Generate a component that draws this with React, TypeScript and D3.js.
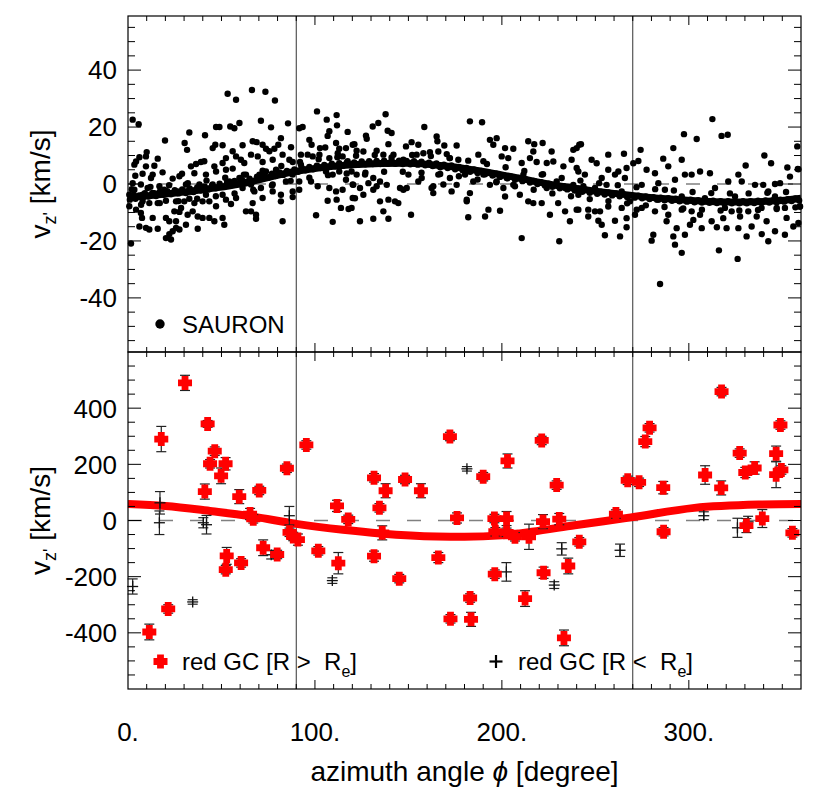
import React from "react";
import * as d3 from "d3";

// ---------- data ----------
const xMajorTicks = [0, 100, 200, 300];
const xTickLabels = ["0.", "100.", "200.", "300."];
const topYTicks = [-40, -20, 0, 20, 40];
const botYTicks = [-400, -200, 0, 200, 400];
const dividers = [90, 270];

// SAURON kinematics: [phi (deg), v_z' (km/s)]
const sauron: [number, number][] = [
  [53.3,31.7],[57.8,29.6],[66.3,33.0],[73.5,32.4],[78.6,29.3],[2.5,22.6],[5.7,21.0],[101.1,25.5],[106.3,22.6],[111.6,24.2],[111.8,20.6],[107.7,18.5],[106.8,16.9],[117.5,18.3],[85.6,21.3],[76.5,19.9],[71.1,22.2],[59.6,21.4],[56.9,19.6],[54.7,20.2],[48.9,20.0],[47.1,20.0],[32.8,18.1],[41.2,17.1],[19.8,15.3],[30.3,14.4],[31.6,12.0],[46.7,13.8],[50.6,13.6],[45.3,12.6],[61.3,13.6],[66.7,15.0],[68.8,14.7],[72.0,13.8],[73.8,12.4],[78.3,12.4],[81.8,16.1],[80.4,13.8],[87.2,12.9],[91.6,19.6],[93.4,20.0],[97.0,15.5],[98.2,13.8],[102.7,12.6],[105.5,12.8],[111.3,14.4],[113.0,12.4],[121.1,14.0],[116.6,12.6],[10.0,11.2],[9.6,9.7],[6.1,9.4],[4.3,7.9],[3.4,6.8],[15.9,8.9],[14.1,6.4],[9.6,6.2],[18.5,4.1],[13.2,3.3],[12.3,2.1],[7.8,3.6],[3.9,2.9],[2.5,0.3],[6.9,-0.2],[23.9,1.9],[27.5,2.7],[28.9,3.6],[33.7,6.2],[36.4,7.0],[39.0,7.7],[40.8,8.0],[46.2,6.2],[35.5,3.8],[41.7,3.3],[47.1,4.4],[52.4,5.0],[56.0,5.4],[56.0,11.5],[57.8,9.7],[60.4,8.5],[62.2,7.4],[65.8,10.3],[69.4,9.7],[72.0,7.7],[77.4,8.5],[82.7,10.3],[86.3,8.5],[88.1,7.7],[75.6,11.5],[52.4,9.1],[50.6,7.4],[92.5,10.3],[96.1,10.3],[98.8,9.7],[102.4,10.3],[107.7,9.1],[112.2,10.8],[114.8,9.7],[117.5,8.0],[120.2,7.0],[92.5,6.8],[95.2,5.0],[101.5,6.2],[105.9,4.4],[109.5,3.3],[113.0,4.4],[116.6,1.5],[120.2,-0.2],[88.1,3.3],[91.6,0.9],[97.9,0.9],[101.5,-0.8],[107.7,-1.4],[111.3,-2.6],[114.8,-2.0],[88.1,-2.6],[91.6,-2.0],[81.8,-3.8],[77.4,-2.6],[72.0,-4.9],[66.7,-6.7],[63.1,-9.6],[65.8,-9.6],[68.5,-10.8],[68.5,-12.2],[82.7,-13.1],[81.8,-6.1],[88.1,-4.6],[106.8,-5.9],[111.6,-5.5],[113.9,-8.4],[118.0,-8.8],[120.2,-4.9],[100.6,-11.0],[109.5,-13.3],[0.7,-7.8],[4.3,-9.0],[6.9,-10.2],[7.5,-11.9],[6.1,-14.9],[9.6,-15.4],[11.4,-16.0],[13.2,-11.9],[15.9,-15.7],[20.3,-11.9],[22.1,-13.1],[25.7,-13.1],[27.5,-9.8],[28.4,-8.4],[24.8,-9.6],[31.9,-10.8],[34.6,-9.6],[37.3,-11.4],[37.3,-15.7],[31.0,-14.3],[27.5,-16.0],[23.9,-16.6],[20.3,-19.0],[22.1,-17.6],[23.0,-19.5],[25.7,-15.4],[39.9,-11.9],[43.5,-11.9],[46.2,-13.1],[50.6,-11.9],[51.5,-14.3],[47.1,-7.8],[52.4,-5.5],[55.1,-7.0],[43.5,-6.1],[39.9,-6.1],[35.5,-6.7],[32.8,-5.2],[30.1,-6.1],[25.7,-6.1],[20.3,-5.9],[15.9,-6.7],[11.4,-6.7],[7.8,-6.1],[1.6,-20.9],[0.7,-3.8],[3.4,-2.0],[10.5,-1.4],[16.8,-0.8],[31.0,-0.2],[38.2,-0.2],[45.3,-0.2],[54.2,0.9],[61.3,-1.4],[65.8,-0.2],[59.6,2.1],[63.1,3.3],[70.3,3.3],[73.8,4.4],[79.2,5.0],[82.7,3.3],[84.5,0.9],[77.4,-0.2],[71.1,-1.4],[67.6,-2.6],[57.8,-4.9],[50.6,-3.8],[41.7,-3.8],[33.7,-2.6],[26.6,-2.6],[19.4,-2.0],[14.1,-3.2],[7.8,-3.8],
  [137.8,24.5],[133.9,21.4],[130.9,20.2],[138.9,18.7],[141.0,17.9],[158.5,20.0],[182.9,22.0],[189.4,21.7],[127.3,17.0],[127.7,15.9],[120.2,13.8],[139.3,14.0],[148.7,13.2],[151.7,14.7],[155.3,13.8],[165.1,16.7],[165.5,15.0],[169.2,13.5],[175.8,13.5],[193.6,15.5],[197.2,16.1],[195.4,13.8],[201.7,12.6],[206.1,12.4],[214.1,15.0],[217.3,14.0],[221.8,14.4],[226.6,11.4],[216.8,11.4],[238.2,12.0],[241.4,13.8],[122.3,11.7],[125.9,11.4],[133.0,11.7],[136.6,10.3],[141.0,9.3],[147.3,8.5],[154.4,10.3],[158.0,10.8],[161.5,11.2],[166.0,11.4],[170.5,10.5],[172.2,9.1],[176.7,8.5],[187.4,10.3],[190.1,8.0],[199.9,9.7],[203.4,9.1],[210.6,7.4],[215.0,9.1],[218.6,7.7],[224.0,7.4],[227.5,7.9],[232.9,6.2],[237.3,8.5],[240.0,5.6],[119.6,4.4],[122.3,3.3],[126.8,3.3],[131.2,2.1],[134.8,0.9],[133.0,-0.8],[128.6,0.3],[124.1,-1.4],[120.5,-0.3],[121.4,-5.0],[119.6,-8.4],[125.9,-3.8],[131.2,-2.0],[138.4,-0.3],[145.5,-1.4],[150.0,3.3],[155.3,0.9],[157.1,2.1],[163.3,-0.8],[163.3,-3.2],[166.0,3.3],[172.2,2.1],[173.1,-2.6],[175.8,-0.3],[180.3,3.3],[184.7,0.9],[190.1,3.3],[193.6,-0.3],[197.2,0.9],[202.6,2.1],[200.8,-1.4],[206.1,-0.3],[211.5,3.3],[217.7,0.9],[221.3,3.3],[224.0,-1.4],[229.3,0.9],[233.8,-1.4],[238.2,-0.3],[240.9,-3.8],[124.1,-13.1],[131.2,-12.2],[136.6,-9.6],[139.3,-12.2],[134.8,-6.1],[139.3,-5.5],[142.8,-6.1],[144.6,-6.7],[151.4,-10.8],[147.3,-2.0],[149.1,-1.4],[181.2,-5.5],[181.2,-6.1],[182.0,-11.7],[182.9,-3.2],[191.0,-11.4],[192.8,-9.0],[199.0,-9.4],[201.7,-4.4],[209.6,-3.8],[214.1,-6.1],[216.8,-6.7],[221.3,-6.7],[225.7,-10.8],[230.1,-6.7],[233.8,-9.6],[236.4,-13.1],[240.0,-9.0],[210.6,-19.0],[230.7,-20.1],[162.4,-1.4],[168.7,-0.2],
  [312.6,22.8],[297.4,17.5],[304.2,15.8],[317.5,16.9],[320.8,17.3],[242.3,14.0],[240.0,12.6],[256.9,10.3],[265.3,10.6],[274.2,12.0],[291.7,12.6],[286.3,8.9],[296.2,8.5],[330.4,6.5],[340.4,10.0],[344.0,7.3],[352.7,5.8],[358.0,13.2],[358.6,5.2],[354.1,2.6],[348.8,0.3],[248.0,8.5],[250.7,7.3],[256.9,5.0],[262.3,4.4],[266.7,5.6],[270.3,7.3],[273.0,8.1],[277.4,5.0],[281.9,3.8],[289.0,6.2],[292.6,1.5],[297.9,3.3],[301.5,3.3],[306.0,4.4],[311.3,3.8],[314.0,-1.4],[321.1,0.9],[326.5,3.3],[328.3,0.9],[335.4,-0.3],[339.8,-0.3],[346.1,0.0],[342.5,-2.6],[240.9,4.4],[244.4,3.3],[253.4,2.1],[260.5,3.3],[265.8,2.1],[243.6,-0.8],[249.8,-1.4],[256.0,-0.3],[264.1,-2.6],[274.8,-0.3],[283.7,0.3],[287.2,-2.0],[240.9,-9.0],[246.2,-11.4],[249.8,-9.6],[252.5,-9.6],[251.6,-12.9],[253.4,-14.3],[255.1,-18.0],[260.5,-12.9],[263.2,-18.4],[266.7,-12.0],[266.7,-15.2],[271.2,-10.8],[272.1,-9.0],[281.0,-17.8],[280.1,-19.9],[284.6,-35.1],[281.9,-9.6],[289.0,-10.8],[288.1,-13.1],[291.7,-18.4],[292.6,-21.3],[293.5,-15.5],[296.2,-24.2],[296.2,-9.0],[297.9,-17.8],[300.6,-14.3],[302.4,-12.6],[306.9,-15.5],[306.0,-10.8],[312.2,-13.1],[315.0,-15.2],[316.1,-23.3],[318.4,-12.0],[320.2,-15.5],[322.9,-9.6],[326.1,-26.3],[326.5,-15.5],[327.4,-11.4],[330.9,-18.4],[333.6,-14.9],[336.3,-11.4],[339.0,-17.6],[341.6,-13.1],[342.5,-20.1],[346.1,-16.6],[347.0,-8.4],[351.4,-17.8],[352.3,-11.9],[355.9,-14.9],[358.6,-13.7],[359.5,-7.9],[351.4,-8.4],[274.8,-8.4],[264.1,-8.4],[256.9,-7.9],[246.2,-9.0],[301.5,-9.6],[319.3,-8.4],[331.8,-9.6],[338.9,-8.4],[268.5,-6.1],[283.7,-5.5],[296.2,-4.4],[308.6,-5.0],[324.7,-4.4],[346.1,-4.4],[358.3,5.3],[359.3,-7.9],
  [1,-5.5],[3,-3.8],[4,-5.2],[6,-4],[8,-4.8],[9,-3.2],[11,-4.4],[13,-3.1],[15,-4.2],[17,-2.7],[19,-3.8],[21,-2.5],[23,-3.6],[25,-2.2],[27,-3.3],[29,-1.9],[31,-3.2],[33,-1.6],[35,-2.8],[37,-1.2],[39,-2.3],[41,-0.9],[43,-1.9],[45,-0.4],[47,-1.5],[49,0.1],[51,-0.9],[53,0.6],[55,-0.4],[57,1.1],[59,0.2],[61,1.4],[63,0.7],[65,1.9],[67,1.1],[69,2.6],[71,1.7],[73,3],[75,2.2],[77,3.6],[79,2.8],[81,4.1],[83,3.2],[85,4.6],[87,3.8],[89,5.1],[91,4.3],[93,5.6],[95,4.8],[97,6],[99,5.2],[101,6.4],[103,5.6],[105,6.7],[107,5.9],[109,7.1],[111,6.2],[113,7.3],[115,6.4],[117,7.5],[119,6.6],[121,7.6],[123,6.8],[125,7.9],[127,6.9],[129,8],[131,7],[133,8.1],[135,7],[137,8.2],[139,7.1],[141,8.2],[143,7.1],[145,8.2],[147,7],[149,8.1],[151,6.9],[153,8],[155,6.8],[157,7.8],[159,6.6],[161,7.5],[163,6.3],[165,7.2],[167,5.9],[169,6.8],[171,5.6],[173,6.5],[175,5.2],[177,6],[179,4.8],[181,5.6],[183,4.3],[185,5.1],[187,3.9],[189,4.6],[191,3.4],[193,4.1],[195,3],[197,3.6],[199,2.5],[201,3.1],[203,2],[205,2.6],[207,1.5],[209,2.1],[211,1],[213,1.6],[215,0.5],[217,1.1],[219,0],[221,0.6],[223,-0.5],[225,0.1],[227,-1],[229,-0.4],[231,-1.5],[233,-0.8],[235,-1.9],[237,-1.2],[239,-2.3],[241,-1.6],[243,-2.7],[245,-2],[247,-3.1],[249,-2.4],[251,-3.4],[253,-2.7],[255,-3.7],[257,-3],[259,-4],[261,-3.3],[263,-4.3],[265,-3.6],[267,-4.6],[269,-3.9],[271,-4.8],[273,-4.1],[275,-5],[277,-4.4],[279,-5.3],[281,-4.6],[283,-5.5],[285,-4.8],[287,-5.7],[289,-5],[291,-5.9],[293,-5.2],[295,-6.1],[297,-5.4],[299,-6.2],[301,-5.5],[303,-6.4],[305,-5.7],[307,-6.5],[309,-5.8],[311,-6.6],[313,-5.9],[315,-6.7],[317,-6],[319,-6.8],[321,-6],[323,-6.8],[325,-6.1],[327,-6.8],[329,-6],[331,-6.8],[333,-6],[335,-6.7],[337,-5.9],[339,-6.6],[341,-5.8],[343,-6.5],[345,-5.7],[347,-6.4],[349,-5.5],[351,-6.2],[353,-5.3],[355,-6],[357,-5.1],[359,-5.8],
  [2,-1.8],[7,-7.3],[12,-1.0],[17,-6.7],[22,-0.4],[27,-6],[32,0.3],[37,-5.2],[42,1.2],[47,-4.3],[52,2.2],[57,-3.3],[62,3.3],[67,-2],[72,4.7],[77,-0.5],[82,6.3],[87,1.1],[92,7.7],[97,2.2],[102,8.7],[107,3.1],[112,9.4],[117,3.7],[122,9.9],[127,4],[132,10.2],[137,4.3],[142,10.3],[147,4.3],[152,10.2],[157,4],[162,9.8],[167,3.5],[172,9.1],[177,2.7],[182,8.2],[187,1.6],[192,7],[197,0.6],[202,5.9],[207,-0.8],[212,4.6],[217,-2.0],[222,3.4],[227,-3.3],[232,2.1],[237,-4.3],[242,1.2],[247,-5.3],[252,0.3],[257,-6],[262,-0.4],[267,-6.8],[272,-1.1],[277,-7.5],[282,-1.8],[287,-8.1],[292,-2.3],[297,-8.6],[302,-2.8],[307,-9],[312,-3.2],[317,-9.3],[322,-3.3],[327,-9.3],[332,-3.3],[337,-9.1],[342,-3.1],[347,-8.8],[352,-2.8],[357,-8.2]
];

// SAURON fitted curve
const sauronFitPhi = [0, 30, 60, 90, 120, 150, 170, 200, 230, 260, 290, 320, 345, 360];
const sauronFitV = [-4.8, -2.8, 0, 4.5, 6.8, 7.3, 6.3, 3.2, -0.6, -3.3, -5.3, -6.3, -6.0, -5.0];

// red GC, R > Re: [phi, v, err]
const redOuter: [number, number, number][] = [
  [30.5,490,27],[17.8,290,45],[42.6,344,12],[46.4,247,15],[43.9,202,15],[52.2,202,22],[49.8,159,28],[41.1,103,27],[59.5,85,25],[70.2,107,15],[85,186,15],[65.3,23,20],[67,6,15],[86.4,-42,15],[88.4,-57,15],[90.9,-68,20],[72.3,-97,28],[79.8,-121,15],[52.8,-126,30],[52.3,-175,15],[60.5,-151,15],[21.5,-315,15],[11.4,-397,28],
  [95.4,269,15],[131.6,152,15],[137.8,106,25],[148.2,146,15],[156.7,106,25],[172.2,299,15],[111.8,52,20],[134.5,45,15],[117.8,4,15],[176,9,18],[136,-44,25],[101.8,-108,15],[112.5,-152,38],[131.6,-127,18],[166,-132,18],[145.1,-207,15],[172.5,-350,15],[183,-276,15],[183.5,-352,25],
  [221.3,285,15],[203,212,25],[190,156,15],[229.3,126,15],[267.3,143,15],[273.4,136,15],[196,7,15],[202.5,7,25],[222,-4,25],[230.7,5,20],[261,23,15],[196.5,-40,15],[202.5,-42,15],[207,-58,15],[214.5,-58,45],[241.4,-76,15],[235.5,-162,28],[222.3,-186,20],[196.2,-191,15],[212.4,-278,28],[233.2,-418,28],
  [317.5,459,15],[279,330,15],[276.7,281,18],[349,340,15],[327.2,240,15],[346.7,238,27],[330.2,171,18],[335.2,187,22],[346.7,163,46],[349.5,180,15],[308.7,162,33],[317.3,116,25],[286.3,117,22],[286.5,-40,15],[330.8,-18,25],[339.3,7,32],[355.4,-44,15]
];

// red GC, R < Re: [phi, v, err]
const redInner: [number, number, number][] = [
  [2.5,-235,27],[17.1,63,40],[16.8,-8,42],[40.3,-8,18],[42,-15,33],[34.6,-290,8],[76.6,-122,15],[86.3,17,33],[109.3,-214,10],[181.3,184,8],[202.4,-183,33],[232,-101,22],[228,-230,12],[263.2,-106,22],[308,17,14],[326,-26,34],[331.7,-5,20]
];

// GC fitted curve
const gcFitPhi = [0, 20, 45, 65, 90, 115, 135, 165, 180, 200, 216, 239, 269, 303, 338, 360];
const gcFitV = [59, 52, 33, 16, -12, -33, -46, -57, -58, -53, -40, -17, 11, 45, 57, 59];

// ---------- layout ----------
const L = 128, R = 801;
const T1 = 16, B1 = 352, T2 = 352, B2 = 689;
const FONT = "'Liberation Sans', Arial, Helvetica, sans-serif";

export default function App() {
  const x = d3.scaleLinear().domain([0, 360]).range([L, R]);
  const yT = d3.scaleLinear().domain([-59, 59]).range([B1, T1]);
  const yB = d3.scaleLinear().domain([-600, 600]).range([B2, T2]);

  const lineT = d3.line<number>().x((_, i) => x(sauronFitPhi[i])).y((d) => yT(d)).curve(d3.curveMonotoneX);
  const lineB = d3.line<number>().x((_, i) => x(gcFitPhi[i])).y((d) => yB(d)).curve(d3.curveMonotoneX);

  const xMinor = d3.range(10, 360, 10);
  const topMinor = d3.range(-55, 56, 5);
  const botMinor = d3.range(-550, 551, 50);

  const plusPath = (a: number, t: number) =>
    `M${-t},${-a}H${t}V${-t}H${a}V${t}H${t}V${a}H${-t}V${t}H${-a}V${-t}H${-t}Z`;

  const xTicks = (yEdge: number, dir: number, key: string) =>
    xMinor.map((v) => {
      const major = v % 100 === 0;
      const len = major ? 9 : 5;
      return <line key={key + v} x1={x(v)} x2={x(v)} y1={yEdge} y2={yEdge + dir * len} stroke="#000" strokeWidth={1} />;
    });

  const yTicks = (ticks: number[], scale: (v: number) => number, majorStep: number, key: string) =>
    ticks.map((v) => {
      const major = v % majorStep === 0;
      const len = major ? 13 : 7;
      return (
        <g key={key + v}>
          <line x1={L} x2={L + len} y1={scale(v)} y2={scale(v)} stroke="#000" strokeWidth={1} />
          <line x1={R} x2={R - len} y1={scale(v)} y2={scale(v)} stroke="#000" strokeWidth={1} />
        </g>
      );
    });

  const errBar = (px: number, py: number, e: number, k: string) => (
    <g key={k} stroke="#222" strokeWidth={1.2}>
      <line x1={px} x2={px} y1={py - e} y2={py + e} />
      <line x1={px - 5} x2={px + 5} y1={py - e} y2={py - e} />
      <line x1={px - 5} x2={px + 5} y1={py + e} y2={py + e} />
    </g>
  );

  return (
    <svg width={829} height={801} style={{ position: "absolute", left: 0, top: 0, background: "#fff" }} fontFamily={FONT}>
      <rect width={829} height={801} fill="#fff" />
      {/* ---------- top panel ---------- */}
      <line x1={L} x2={R} y1={yT(0)} y2={yT(0)} stroke="#808080" strokeWidth={1.5} strokeDasharray="14,17" />
      {dividers.map((d) => (
        <line key={"dt" + d} x1={x(d)} x2={x(d)} y1={T1} y2={B1} stroke="#333" strokeWidth={1} />
      ))}
      {sauron.map((p, i) => (
        <circle key={"s" + i} cx={x(p[0])} cy={yT(p[1])} r={3.2} fill="#000" />
      ))}
      <path d={lineT(sauronFitV) || ""} fill="none" stroke="#000" strokeWidth={7} />
      <rect x={L} y={T1} width={R - L} height={B1 - T1} fill="none" stroke="#000" strokeWidth={1.2} />
      {xTicks(T1, 1, "tt")}
      {xTicks(B1, -1, "tb")}
      {yTicks(topMinor, yT, 20, "ty")}
      {topYTicks.map((v) => (
        <text key={"tl" + v} x={117} y={yT(v)} dy="0.36em" textAnchor="end" fontSize={26}>{v}</text>
      ))}
      <circle cx={160} cy={324} r={4.7} fill="#000" />
      <text x={182} y={333} fontSize={24}>SAURON</text>

      {/* ---------- bottom panel ---------- */}
      <line x1={L} x2={R} y1={yB(0)} y2={yB(0)} stroke="#808080" strokeWidth={1.5} strokeDasharray="14,17" />
      {dividers.map((d) => (
        <line key={"db" + d} x1={x(d)} x2={x(d)} y1={T2} y2={B2} stroke="#333" strokeWidth={1} />
      ))}
      <path d={lineB(gcFitV) || ""} fill="none" stroke="#ff0000" strokeWidth={8} />
      {redInner.map((p, i) => {
        const px = x(p[0]), py = yB(p[1]);
        const e = yB(0) - yB(p[2]);
        return (
          <g key={"in" + i}>
            {errBar(px, py, e, "ie" + i)}
            <line x1={px - 5.5} x2={px + 5.5} y1={py} y2={py} stroke="#111" strokeWidth={1.3} />
            <line x1={px} x2={px} y1={py - 5.5} y2={py + 5.5} stroke="#111" strokeWidth={1.3} />
          </g>
        );
      })}
      {redOuter.map((p, i) => {
        const px = x(p[0]), py = yB(p[1]);
        const e = yB(0) - yB(p[2]);
        return errBar(px, py, e, "oe" + i);
      })}
      {redOuter.map((p, i) => (
        <path key={"o" + i} d={plusPath(7, 3.4)} transform={`translate(${x(p[0])},${yB(p[1])})`} fill="#ff0000" />
      ))}
      <rect x={L} y={T2} width={R - L} height={B2 - T2} fill="none" stroke="#000" strokeWidth={1.2} />
      {xTicks(T2, 1, "bt")}
      {xTicks(B2, -1, "bb")}
      {yTicks(botMinor, yB, 200, "by")}
      {botYTicks.map((v) => (
        <text key={"bl" + v} x={117} y={yB(v)} dy="0.36em" textAnchor="end" fontSize={26}>{v}</text>
      ))}
      <path d={plusPath(7, 3.4)} transform="translate(160.5,661.5)" fill="#ff0000" />
      <text x={182} y={670} fontSize={24} style={{ whiteSpace: "pre" }}>
        {"red GC [R >  R"}<tspan dy={7} fontSize={16}>e</tspan><tspan dy={-7}>]</tspan>
      </text>
      <line x1={489.5} x2={502.5} y1={661.5} y2={661.5} stroke="#000" strokeWidth={2.2} />
      <line x1={496} x2={496} y1={655} y2={668} stroke="#000" strokeWidth={2.2} />
      <text x={518} y={670} fontSize={24} style={{ whiteSpace: "pre" }}>
        {"red GC [R <  R"}<tspan dy={7} fontSize={16}>e</tspan><tspan dy={-7}>]</tspan>
      </text>

      {/* ---------- x axis labels ---------- */}
      {xMajorTicks.map((v, i) => (
        <text key={"xl" + v} x={x(v)} y={741} textAnchor="middle" fontSize={26}>{xTickLabels[i]}</text>
      ))}
      <text x={(L + R) / 2} y={781} textAnchor="middle" fontSize={28}>
        azimuth angle <tspan fontStyle="italic">ϕ</tspan> [degree]
      </text>

      {/* ---------- y axis titles ---------- */}
      {[yT(0), yB(0)].map((cy, i) => (
        <text key={"yt" + i} transform={`translate(50,${cy}) rotate(-90)`} textAnchor="middle" fontSize={28}>
          v<tspan dy={6} fontSize={18}>z'</tspan><tspan dy={-6}> [km/s]</tspan>
        </text>
      ))}
    </svg>
  );
}
